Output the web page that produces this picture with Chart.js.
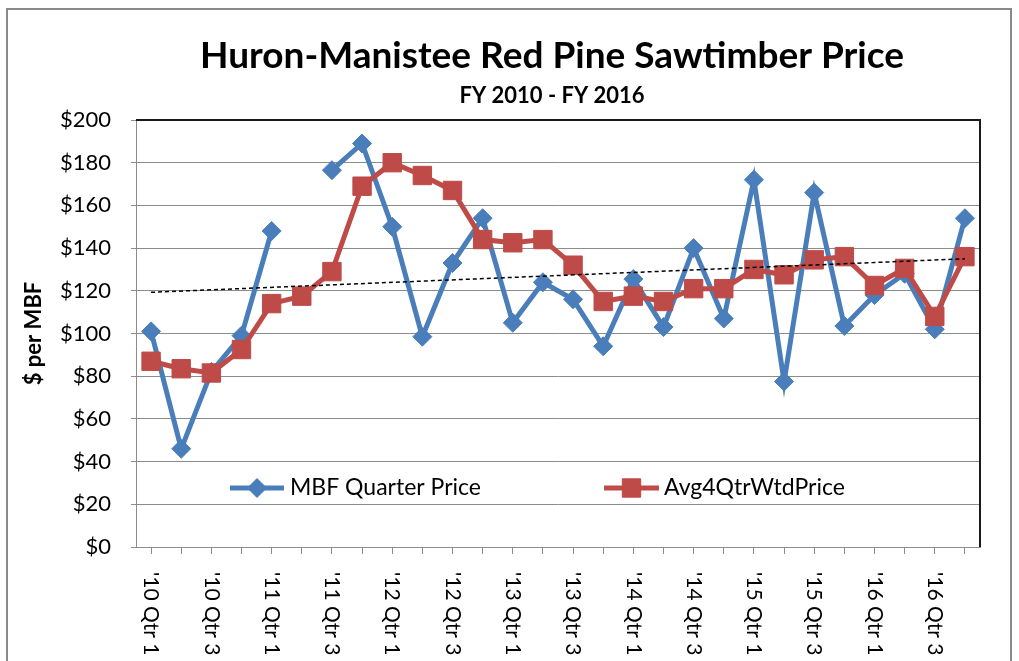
<!DOCTYPE html>
<html>
<head>
<meta charset="utf-8">
<script src="https://cdn.jsdelivr.net/npm/chart.js@4.4.1/dist/chart.umd.min.js"></script>
<style>
  html, body { margin: 0; padding: 0; background: #fff; }
  #wrap { position: relative; width: 1019px; height: 661px; overflow: hidden; }
  #frame { position: absolute; left: 6px; top: 8px; width: 1006px; height: 720px;
           border: 2px solid #8a8a8a; box-sizing: border-box; }
  #c { position: absolute; left: 0; top: 0; }
</style>
</head>
<body>
<div id="wrap">
  <div id="frame"></div>
  <canvas id="c" width="1019" height="661"></canvas>
</div>
<script>
// Fiscal quarters FY2010 - FY2016
const quarters = [
  "'10 Qtr 1", "'10 Qtr 2", "'10 Qtr 3", "'10 Qtr 4",
  "'11 Qtr 1", "'11 Qtr 2", "'11 Qtr 3", "'11 Qtr 4",
  "'12 Qtr 1", "'12 Qtr 2", "'12 Qtr 3", "'12 Qtr 4",
  "'13 Qtr 1", "'13 Qtr 2", "'13 Qtr 3", "'13 Qtr 4",
  "'14 Qtr 1", "'14 Qtr 2", "'14 Qtr 3", "'14 Qtr 4",
  "'15 Qtr 1", "'15 Qtr 2", "'15 Qtr 3", "'15 Qtr 4",
  "'16 Qtr 1", "'16 Qtr 2", "'16 Qtr 3", "'16 Qtr 4"
];

// $ per MBF, quarterly sale price (no sale in '11 Qtr 2)
const mbfQuarterPrice = [
  101, 46, 82, 99,
  148, null, 176.5, 189,
  150, 98.5, 133, 154,
  105, 124, 116, 94,
  125.5, 103, 140, 107,
  172, 77.5, 166, 103.5,
  118, 128, 102, 154
];

// $ per MBF, four-quarter weighted average
const avg4QtrWtdPrice = [
  87, 83.5, 81.5, 92.5,
  114, 117.5, 129, 169,
  180, 174, 167, 144,
  142.5, 144, 132, 115,
  117.5, 115, 121, 121,
  130, 127.5, 134.5, 136,
  122.5, 130.5, 108, 136
];

// Linear trend of the quarterly price, first and last quarter
const trendStart = 119.3;
const trendEnd = 135;

const yMin = 0, yMax = 200, yStep = 20;

const seriesNames = ['MBF Quarter Price', 'Avg4QtrWtdPrice'];
const chartTitle = 'Huron-Manistee Red Pine Sawtimber Price';
const chartSubtitle = 'FY 2010 - FY 2016';
const yAxisTitle = '$ per MBF';

const BLUE = '#4A7EBB';
const RED = '#BE4B48';
const GRID = '#8c8c8c';
const FONT = 'Lato, "Open Sans", sans-serif';

const trendLine = quarters.map((q, i) =>
  i === 0 ? trendStart : (i === quarters.length - 1 ? trendEnd : null));

// Titles, rotated category labels, legend and plot frame
const decorations = {
  id: 'decorations',
  afterDraw(chart) {
    const ctx = chart.ctx;
    const area = chart.chartArea;
    const xs = chart.scales.x;

    ctx.save();
    // plot area frame (top and right edges)
    ctx.strokeStyle = '#1a1a1a';
    ctx.lineWidth = 2;
    ctx.beginPath();
    ctx.moveTo(area.left, area.top);
    ctx.lineTo(area.right, area.top);
    ctx.lineTo(area.right, area.bottom);
    ctx.stroke();

    // titles
    ctx.fillStyle = '#000';
    ctx.textAlign = 'center';
    ctx.textBaseline = 'middle';
    ctx.font = 'bold 37px ' + FONT;
    ctx.fillText(chartTitle, 552, 56);
    ctx.font = 'bold 22px ' + FONT;
    ctx.fillText(chartSubtitle, 552, 96);

    // category labels, every other quarter, reading downward
    ctx.font = '21px ' + FONT;
    ctx.textAlign = 'left';
    ctx.textBaseline = 'middle';
    quarters.forEach((q, i) => {
      if (i % 2 !== 0) return;
      const x = xs.getPixelForTick(i);
      ctx.save();
      ctx.translate(x, 572);
      ctx.rotate(Math.PI / 2);
      ctx.fillText(q, 0, 0);
      ctx.restore();
    });

    // legend inside the plot area
    const items = [
      { ds: chart.data.datasets[2], x0: 230, x1: 284, tx: 290 },
      { ds: chart.data.datasets[1], x0: 604, x1: 659, tx: 664 }
    ];
    const ly = 488;
    items.forEach(it => {
      const ds = it.ds;
      ctx.strokeStyle = ds.borderColor;
      ctx.lineWidth = ds.borderWidth;
      ctx.beginPath();
      ctx.moveTo(it.x0, ly);
      ctx.lineTo(it.x1, ly);
      ctx.stroke();
      ctx.fillStyle = ds.pointBackgroundColor;
      ctx.strokeStyle = ds.pointBorderColor;
      ctx.lineWidth = ds.pointBorderWidth;
      Chart.helpers.drawPoint(ctx, {
        pointStyle: ds.pointStyle, radius: ds.pointRadius, borderWidth: ds.pointBorderWidth
      }, (it.x0 + it.x1) / 2, ly);
      ctx.fillStyle = '#000';
      ctx.font = '23px ' + FONT;
      ctx.textAlign = 'left';
      ctx.fillText(ds.label, it.tx, ly);
    });
    ctx.restore();
  }
};

new Chart(document.getElementById('c'), {
  type: 'line',
  data: {
    labels: quarters,
    datasets: [
      {
        label: 'Trend',
        data: trendLine,
        spanGaps: true,
        borderColor: '#000',
        borderWidth: 1.5,
        borderDash: [4, 3],
        pointRadius: 0,
        order: 0
      },
      {
        label: seriesNames[1],
        data: avg4QtrWtdPrice,
        borderColor: RED,
        borderWidth: 5,
        pointStyle: 'rect',
        pointRadius: 13,
        pointBackgroundColor: RED,
        pointBorderColor: RED,
        pointBorderWidth: 1,
        order: 1
      },
      {
        label: seriesNames[0],
        data: mbfQuarterPrice,
        spanGaps: false,
        borderColor: BLUE,
        borderWidth: 5,
        pointStyle: 'rectRot',
        pointRadius: 9.5,
        pointBackgroundColor: BLUE,
        pointBorderColor: BLUE,
        pointBorderWidth: 1,
        order: 2
      }
    ]
  },
  options: {
    responsive: false,
    animation: false,
    devicePixelRatio: 1,
    layout: { padding: { top: 120, right: 39, bottom: 0, left: 0 } },
    elements: { line: { tension: 0 } },
    plugins: {
      legend: { display: false },
      title: { display: false },
      tooltip: { enabled: false }
    },
    scales: {
      x: {
        type: 'category',
        offset: true,
        grid: { drawOnChartArea: false, drawTicks: true, tickLength: 7, color: GRID },
        border: { color: GRID, width: 1 },
        ticks: { display: false, autoSkip: false },
        afterFit(scale) { scale.height = 114; }
      },
      y: {
        min: yMin,
        max: yMax,
        grid: { color: GRID, lineWidth: 1, tickLength: 5, drawTicks: true },
        border: { color: GRID, width: 1 },
        ticks: {
          stepSize: yStep,
          padding: 20,
          color: '#000',
          font: { family: FONT, size: 22 },
          callback: v => '$' + v
        },
        title: {
          display: true,
          text: yAxisTitle,
          color: '#000',
          font: { family: FONT, size: 22, weight: 'bold' },
          padding: { top: 21, bottom: 0 }
        },
        afterFit(scale) { scale.width = 136; }
      }
    }
  },
  plugins: [decorations]
});
</script>
</body>
</html>
